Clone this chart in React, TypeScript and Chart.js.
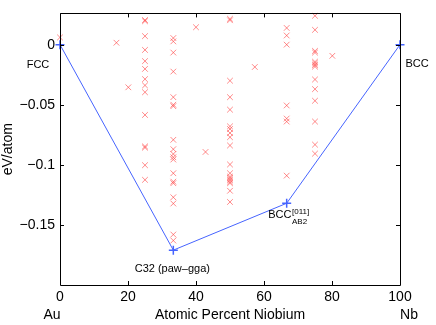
import React, { useEffect, useRef } from "react";
import { Chart, registerables } from "chart.js";
Chart.register(...registerables);

// ---- data ----
const xTickValues = [0, 20, 40, 60, 80, 100];
const yTickValues = [-0.15, -0.1, -0.05, 0];
const yTickLabels = ["\u22120.15", "\u22120.1", "\u22120.05", "0"];
const endLabels = ["Au", "Nb"];

const hullX = [0, 33.33, 66.67, 100];
const hullY = [0, -0.171, -0.132, 0];
const hullNames = ["FCC", "C32 (paw\u2013gga)", "BCC", "BCC"];
const hullSup = ["", "", "[011]", ""];
const hullSub = ["", "", "AB2", ""];

const colPercents = [25, 33.33, 50, 66.67, 75];
const col25 = [0.0205, 0.0195, 0.0071, -0.0044, -0.0137, -0.0202, -0.0287, -0.0339, -0.0396, -0.0585, -0.0847, -0.0857, -0.1003, -0.1125];
const col33 = [0.0055, 0.0027, -0.0066, -0.0224, -0.0437, -0.05, -0.0512, -0.0792, -0.087, -0.091, -0.0937, -0.0956, -0.107, -0.114, -0.1153, -0.127, -0.1322, -0.158, -0.163];
const col50 = [0.0215, 0.0203, -0.03, -0.0437, -0.0541, -0.068, -0.0702, -0.0735, -0.077, -0.0839, -0.0997, -0.107, -0.1098, -0.1112, -0.1125, -0.114, -0.1153, -0.1216, -0.1309];
const col67 = [0.0139, 0.0076, 0.0, -0.0506, -0.0615, -0.064, -0.109];
const col75 = [0.024, 0.0123, -0.0052, -0.0066, -0.0142, -0.0156, -0.017, -0.0183, -0.029, -0.037, -0.0467, -0.064, -0.0832, -0.0907];
const colValues = [col25, col33, col50, col67, col75];
const singleX = [0, 16.6, 20.1, 40, 42.8, 57.3, 80.1];
const singleY = [0.006, 0.0016, -0.0355, 0.0145, -0.0893, -0.0186, -0.0093];

const FONT = "'Liberation Sans', Arial, Helvetica, sans-serif";

const boxPlugin = {
  id: "matlabBox",
  afterDraw(chart: any) {
    const { ctx, chartArea: a, scales } = chart;
    const xs = scales.x;
    const ys = scales.y;
    ctx.save();
    ctx.strokeStyle = "#000";
    ctx.lineWidth = 1;
    ctx.beginPath();
    ctx.rect(Math.round(a.left) + 0.5, Math.round(a.top) + 0.5, Math.round(a.right - a.left), Math.round(a.bottom - a.top));
    ctx.stroke();
    const tl = 4;
    ctx.beginPath();
    xTickValues.forEach((v) => {
      const px = Math.round(xs.getPixelForValue(v)) + 0.5;
      ctx.moveTo(px, a.bottom);
      ctx.lineTo(px, a.bottom - tl);
      ctx.moveTo(px, a.top);
      ctx.lineTo(px, a.top + tl);
    });
    yTickValues.forEach((v) => {
      const py = Math.round(ys.getPixelForValue(v)) + 0.5;
      ctx.moveTo(a.left, py);
      ctx.lineTo(a.left + tl, py);
      ctx.moveTo(a.right, py);
      ctx.lineTo(a.right - tl, py);
    });
    ctx.stroke();

    // end labels
    ctx.fillStyle = "#000";
    ctx.font = `14px ${FONT}`;
    ctx.textAlign = "center";
    ctx.textBaseline = "middle";
    ctx.fillText(endLabels[0], xs.getPixelForValue(0) - 8, 315);
    ctx.fillText(endLabels[1], xs.getPixelForValue(100) + 9, 315);

    // hull labels
    const offs = [
      [-22, 20, "center"],
      [-1, 19, "center"],
      [-18.4, 12, "left"],
      [17, 19.5, "center"],
    ];
    hullX.forEach((hx, i) => {
      const px = xs.getPixelForValue(hx);
      const py = ys.getPixelForValue(hullY[i]);
      const [dx, dy, al] = offs[i] as [number, number, CanvasTextAlign];
      ctx.font = `11px ${FONT}`;
      ctx.textAlign = al;
      ctx.textBaseline = "middle";
      ctx.fillText(hullNames[i], px + dx, py + dy);
      if (hullSup[i] || hullSub[i]) {
        const w = ctx.measureText(hullNames[i]).width;
        const sx = px + dx + w + 0.5;
        ctx.font = `8px ${FONT}`;
        ctx.textAlign = "left";
        ctx.fillText(hullSup[i], sx, py + dy - 3.5);
        ctx.fillText(hullSub[i], sx, py + dy + 7);
      }
    });
    ctx.restore();
  },
};

export default function App() {
  const ref = useRef<HTMLCanvasElement | null>(null);
  useEffect(() => {
    if (!ref.current) return;
    const structPoints: { x: number; y: number }[] = [];
    colPercents.forEach((p, i) => colValues[i].forEach((v) => structPoints.push({ x: p, y: v })));
    singleX.forEach((sx, i) => structPoints.push({ x: sx, y: singleY[i] }));
    const hullPoints = hullX.map((hx, i) => ({ x: hx, y: hullY[i] }));

    const chart = new Chart(ref.current, {
      type: "scatter",
      data: {
        datasets: [
          {
            label: "structures",
            data: structPoints,
            pointStyle: "crossRot",
            pointRadius: 4,
            borderColor: "rgba(255,60,60,0.6)",
            backgroundColor: "rgba(255,60,60,0.6)",
            pointBorderWidth: 1,
            showLine: false,
            clip: false,
            order: 2,
          } as any,
          {
            label: "hull",
            data: hullPoints,
            showLine: true,
            borderColor: "rgb(70,100,255)",
            backgroundColor: "rgb(70,100,255)",
            borderWidth: 1,
            pointStyle: "cross",
            pointRadius: 4.5,
            pointBorderWidth: 1.5,
            clip: false,
            order: 1,
          } as any,
        ],
      },
      options: {
        responsive: false,
        animation: false,
        layout: { padding: { left: 0, right: 36, top: 9, bottom: 0 } },
        plugins: { legend: { display: false }, tooltip: { enabled: false } },
        scales: {
          x: {
            type: "linear",
            min: 0,
            max: 100,
            afterBuildTicks: (s: any) => {
              s.ticks = xTickValues.map((v) => ({ value: v }));
            },
            afterFit: (s: any) => {
              s.height = 40;
            },
            ticks: {
              color: "#000",
              font: { family: FONT, size: 14 },
              padding: 4,
              maxRotation: 0,
              callback: (v: any) => String(v),
            },
            grid: { display: false, drawTicks: false },
            border: { display: false },
            title: {
              display: true,
              text: "Atomic Percent Niobium",
              color: "#000",
              font: { family: FONT, size: 14 },
              padding: { top: 0, bottom: 1 },
            },
          },
          y: {
            type: "linear",
            min: -0.2,
            max: 0.026,
            afterBuildTicks: (s: any) => {
              s.ticks = yTickValues.map((v) => ({ value: v }));
            },
            afterFit: (s: any) => {
              s.width = 60;
            },
            ticks: {
              color: "#000",
              font: { family: FONT, size: 14 },
              padding: 5,
              callback: (v: any) => {
                const i = yTickValues.findIndex((t) => Math.abs(t - v) < 1e-9);
                return i >= 0 ? yTickLabels[i] : "";
              },
            },
            grid: { display: false, drawTicks: false },
            border: { display: false },
            title: {
              display: true,
              text: "eV/atom",
              color: "#000",
              font: { family: FONT, size: 14 },
              padding: { top: 0, bottom: 0 },
            },
          },
        },
      } as any,
      plugins: [boxPlugin],
    });
    return () => chart.destroy();
  }, []);
  return (
    <div style={{ position: "absolute", left: 0, top: 0, width: 436, height: 325, background: "#fff" }}>
      <canvas ref={ref} width={436} height={325} style={{ display: "block" }} />
    </div>
  );
}
